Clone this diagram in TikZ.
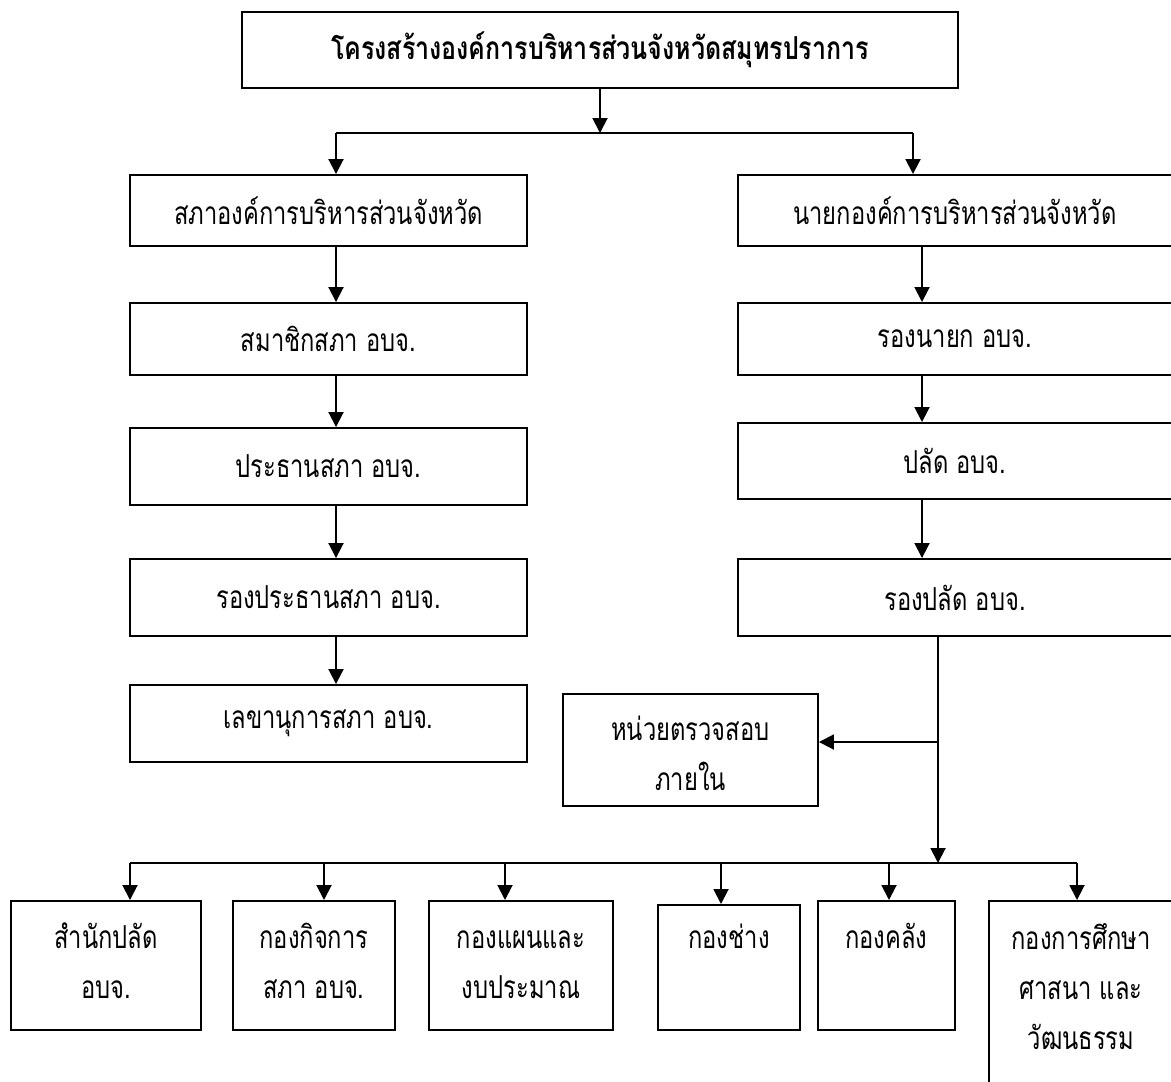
\documentclass[tikz,border=0pt]{standalone}
\usepackage{fontspec}
\newfontfamily\thaifont[Script=Thai, FakeStretch=0.75]{Loma}
\newfontfamily\thaititle[Script=Thai, FakeStretch=0.79]{Loma}
\usetikzlibrary{arrows.meta, positioning}

\begin{document}
\begin{tikzpicture}[x=0.2mm, y=-0.2mm,
    every node/.style={font=\thaifont\fontsize{18}{28.5}\selectfont},
    box/.style={draw, line width=1.1pt, align=center, inner sep=0pt},
    leftbox/.style={box, minimum width=79.4mm},
    rightbox/.style={box, minimum width=86.8mm},
    unitbox/.style={box, anchor=north west, text height=19.6mm, text depth=6.2mm},
    link/.style={line width=1.1pt},
    arrow/.style={-{Triangle[length=3mm, width=3mm]}, line width=1.1pt}
]
\useasboundingbox (0,0) rectangle (1171,1081);

% Titre
\node[box, minimum width=143.2mm, minimum height=15.2mm,
      font=\thaititle\bfseries\fontsize{18}{28.5}\selectfont] (title) at (600,50)
    {โครงสร้างองค์การบริหารส่วนจังหวัดสมุทรปราการ};

% Colonne gauche : le conseil
\node[leftbox, minimum height=14.2mm] (sapa) at (328.5,210.5) {สภาองค์การบริหารส่วนจังหวัด};
\node[leftbox, minimum height=14.4mm] (member) at (328.5,339) {สมาชิกสภา อบจ.};
\node[leftbox, minimum height=15.4mm] (chair) at (328.5,466.5) {ประธานสภา อบจ.};
\node[leftbox, minimum height=15.4mm] (vice) at (328.5,597.5) {รองประธานสภา อบจ.};
\node[leftbox, minimum height=15.4mm] (secretary) at (328.5,723.5) {เลขานุการสภา อบจ.};

% Colonne droite : l'exécutif
\node[rightbox, minimum height=14.2mm] (nayok) at (955,210.5) {นายกองค์การบริหารส่วนจังหวัด};
\node[rightbox, minimum height=14.4mm] (rongnayok) at (955,339) {รองนายก อบจ.};
\node[rightbox, minimum height=15.2mm] (palad) at (955,461) {ปลัด อบจ.};
\node[rightbox, minimum height=15.4mm] (rongpalad) at (955,597.5) {รองปลัด อบจ.};

% Audit interne
\node[box, anchor=north west, minimum width=51mm, text height=19.4mm, text depth=3mm] (audit)
    at (562,693) {หน่วยตรวจสอบ\\ภายใน};

% Divisions
\node[unitbox, minimum width=38mm] (office) at (10,900) {สำนักปลัด\\อบจ.};
\node[unitbox, minimum width=32.4mm] (council) at (232,900) {กองกิจการ\\สภา อบจ.};
\node[unitbox, minimum width=36.8mm] (budget) at (428,900) {กองแผนและ\\งบประมาณ};
\node[unitbox, minimum width=28.4mm, text height=8.8mm, text depth=16.2mm] (works) at (657,904) {กองช่าง};
\node[unitbox, minimum width=27.4mm, text height=9.6mm, text depth=16.2mm] (finance) at (817,900) {กองคลัง};
\node[unitbox, minimum width=36.8mm, text height=29.7mm, text depth=15mm] (education) at (988,900)
    {กองการศึกษา\\ศาสนา และ\\วัฒนธรรม};

% Liaisons du haut
\coordinate (split) at (600,133);
\coordinate (lsplit) at (336,133);
\coordinate (rsplit) at (913,133);
\draw[arrow] (title.south) -- (split);
\draw[link] (lsplit) -- (rsplit);
\draw[arrow] (lsplit) -- (lsplit |- sapa.north);
\draw[arrow] (rsplit) -- (rsplit |- nayok.north);

% Chaînes verticales
\foreach \a/\b in {sapa/member, member/chair, chair/vice, vice/secretary}
    \draw[arrow] (\a.south -| lsplit) -- (\b.north -| lsplit);
\coordinate (rx) at (922,0);
\foreach \a/\b in {nayok/rongnayok, rongnayok/palad, palad/rongpalad}
    \draw[arrow] (\a.south -| rx) -- (\b.north -| rx);

% Vers les divisions
\coordinate (tap) at (938,742);
\coordinate (down) at (938,863);
\draw[arrow] (rongpalad.south -| down) -- (down);
\draw[arrow] (tap) -- (tap -| audit.east);
\draw[link] (130,863) coordinate (bl) -- (1077,863) coordinate (br);
\foreach \n/\x in {office/130, council/324, budget/505, works/721, finance/889, education/1077} {
    \coordinate (t\n) at (\x,863);
    \draw[arrow] (t\n) -- (t\n |- \n.north);
}

\end{tikzpicture}
\end{document}
